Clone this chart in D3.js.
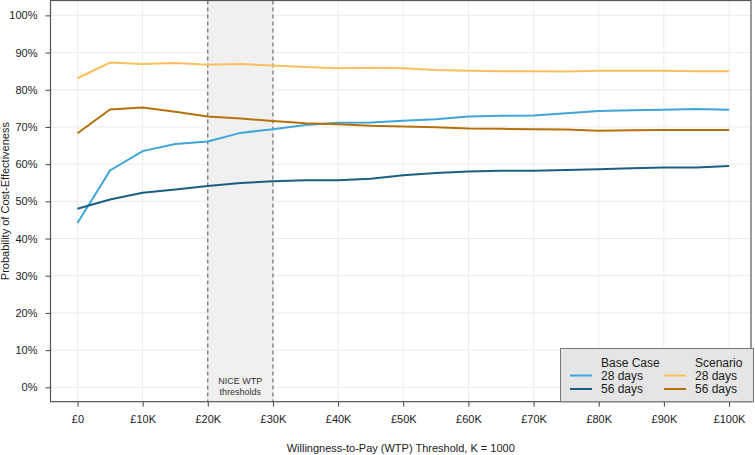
<!DOCTYPE html>
<html>
<head>
<meta charset="utf-8">
<script src="https://cdn.jsdelivr.net/npm/d3@7"></script>
<style>
  body { margin: 0; background: #fff; }
  svg text { font-family: "Liberation Sans", Arial, sans-serif; }
</style>
</head>
<body>
<svg id="chart" width="755" height="455"></svg>
<script>
// WTP thresholds (GBP)
const wtp = [0, 5000, 10000, 15000, 20000, 25000, 30000, 35000, 40000, 45000, 50000,
  55000, 60000, 65000, 70000, 75000, 80000, 85000, 90000, 95000, 100000]

// probability of cost-effectiveness (%)
const base28 = [44.2, 58.3, 63.5, 65.4, 66.1, 68.4, 69.4, 70.5, 71.1, 71.2, 71.7,
  72.1, 72.8, 73.0, 73.1, 73.7, 74.3, 74.5, 74.6, 74.8, 74.6]
const base56 = [48.0, 50.5, 52.3, 53.2, 54.1, 54.9, 55.4, 55.7, 55.7, 56.1, 57.0,
  57.6, 58.0, 58.2, 58.2, 58.4, 58.6, 58.9, 59.1, 59.1, 59.5]
const scen28 = [83.1, 87.3, 86.9, 87.2, 86.7, 86.9, 86.5, 86.1, 85.8, 85.9, 85.8,
  85.3, 85.1, 85.0, 85.0, 84.9, 85.1, 85.1, 85.1, 85.0, 85.0]
const scen56 = [68.3, 74.7, 75.2, 74.1, 72.8, 72.3, 71.6, 71.0, 70.7, 70.3, 70.1,
  69.9, 69.6, 69.5, 69.4, 69.3, 69.0, 69.1, 69.2, 69.2, 69.2]

const xTicks = [0, 10000, 20000, 30000, 40000, 50000, 60000, 70000, 80000, 90000, 100000]
const yTicks = [0, 10, 20, 30, 40, 50, 60, 70, 80, 90, 100]
const niceBand = [20000, 30000]

const series = [
  {group: 'Base Case', label: '28 days', values: base28, color: '#3fa6da'},
  {group: 'Base Case', label: '56 days', values: base56, color: '#1a5f83'},
  {group: 'Scenario', label: '28 days', values: scen28, color: '#fcbf5e'},
  {group: 'Scenario', label: '56 days', values: scen56, color: '#b5720a'}
]

const svg = d3.select('#chart')
const panel = {left: 50.5, right: 751, top: 0.5, bottom: 401.7}

const x = d3.scaleLinear()
  .domain([-4140, 103370])
  .range([panel.left, panel.right])

const y = d3.scaleLinear()
  .domain([-3.87, 104.0])
  .range([panel.bottom, panel.top])

// grid
const grid = svg.append('g')
grid.selectAll('.gx').data(xTicks).join('line')
  .attr('x1', d => x(d)).attr('x2', d => x(d))
  .attr('y1', panel.top).attr('y2', panel.bottom)
  .attr('stroke', '#ebebeb').attr('stroke-width', 1)
grid.selectAll('.gy').data(yTicks).join('line')
  .attr('x1', panel.left).attr('x2', panel.right)
  .attr('y1', d => y(d)).attr('y2', d => y(d))
  .attr('stroke', '#ebebeb').attr('stroke-width', 1)

// NICE band
svg.append('rect')
  .attr('x', x(niceBand[0])).attr('width', x(niceBand[1]) - x(niceBand[0]))
  .attr('y', panel.top).attr('height', panel.bottom - panel.top)
  .attr('fill', '#f0f0f0')

svg.selectAll('.band-line').data(niceBand).join('line')
  .attr('x1', d => x(d)).attr('x2', d => x(d))
  .attr('y1', panel.top).attr('y2', panel.bottom)
  .attr('stroke', '#444').attr('stroke-width', 0.9)
  .attr('stroke-dasharray', '4,3')

const midBand = (x(niceBand[0]) + x(niceBand[1])) / 2
svg.append('text')
  .attr('x', midBand).attr('y', 384)
  .attr('text-anchor', 'middle').attr('font-size', 9).attr('fill', '#333')
  .text('NICE WTP')
svg.append('text')
  .attr('x', midBand).attr('y', 395)
  .attr('text-anchor', 'middle').attr('font-size', 9).attr('fill', '#333')
  .text('thresholds')

// lines
const line = d3.line()
  .x((d, i) => x(wtp[i]))
  .y(d => y(d))

svg.selectAll('.series').data(series).join('path')
  .attr('d', d => line(d.values))
  .attr('fill', 'none')
  .attr('stroke', d => d.color)
  .attr('stroke-width', 2)

// axes
const xAxis = svg.append('g')
  .attr('transform', `translate(0,${panel.bottom})`)
  .call(d3.axisBottom(x).tickValues(xTicks).tickSize(5).tickPadding(9)
    .tickFormat(d => d === 0 ? '£0' : `£${d / 1000}K`))
const yAxis = svg.append('g')
  .attr('transform', `translate(${panel.left},0)`)
  .call(d3.axisLeft(y).tickValues(yTicks).tickSize(5).tickPadding(8)
    .tickFormat(d => d + '%'))

for (const ax of [xAxis, yAxis]) {
  ax.select('.domain').remove()
  ax.selectAll('.tick line').attr('stroke', '#444')
  ax.selectAll('.tick text').attr('font-size', 11).attr('fill', '#222')
    .attr('font-family', '"Liberation Sans", Arial, sans-serif')
}

// panel border
svg.append('rect')
  .attr('x', panel.left).attr('y', panel.top)
  .attr('width', panel.right - panel.left).attr('height', panel.bottom - panel.top)
  .attr('fill', 'none').attr('stroke', '#555').attr('stroke-width', 1.2)

// axis titles
svg.append('text')
  .attr('x', (panel.left + panel.right) / 2).attr('y', 452)
  .attr('text-anchor', 'middle').attr('font-size', 11).attr('fill', '#222')
  .text('Willingness-to-Pay (WTP) Threshold, K = 1000')
svg.append('text')
  .attr('transform', `translate(9,${(panel.top + panel.bottom) / 2}) rotate(-90)`)
  .attr('text-anchor', 'middle').attr('font-size', 11).attr('fill', '#222')
  .text('Probability of Cost-Effectiveness')

// legend
const legend = svg.append('g')
legend.append('rect')
  .attr('x', 560.5).attr('y', 348.5).attr('width', 193).attr('height', panel.bottom - 348.5)
  .attr('fill', '#e5e5e5').attr('stroke', '#777').attr('stroke-width', 1)

const groups = ['Base Case', 'Scenario']
const colX = [570, 664]
groups.forEach((g, gi) => {
  legend.append('text')
    .attr('x', colX[gi] + 31).attr('y', 367)
    .attr('font-size', 12).attr('fill', '#1a1a1a')
    .text(g)
  const items = series.filter(s => s.group === g)
  items.forEach((s, i) => {
    const yy = 375.5 + i * 13.5
    legend.append('line')
      .attr('x1', colX[gi]).attr('x2', colX[gi] + 22)
      .attr('y1', yy).attr('y2', yy)
      .attr('stroke', s.color).attr('stroke-width', 2)
    legend.append('text')
      .attr('x', colX[gi] + 31).attr('y', yy + 4.2)
      .attr('font-size', 12).attr('fill', '#1a1a1a')
      .text(s.label)
  })
})
</script>
</body>
</html>
